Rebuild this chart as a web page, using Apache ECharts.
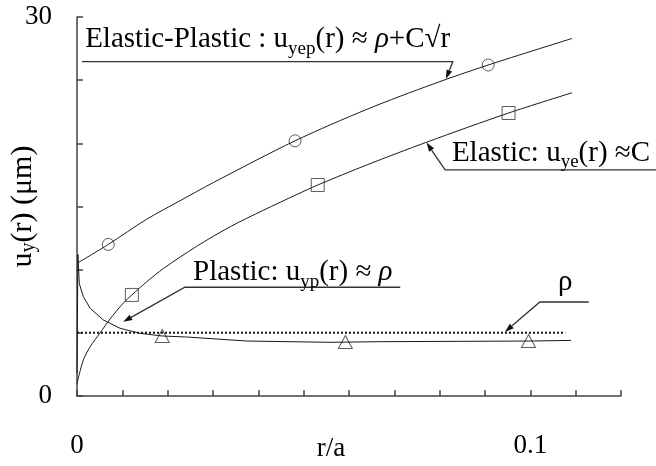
<!DOCTYPE html>
<html><head><meta charset="utf-8">
<script src="https://cdn.jsdelivr.net/npm/echarts@6/dist/echarts.min.js"></script>
<style>html,body{margin:0;padding:0;background:#fff}#c{width:656px;height:466px}</style>
</head><body><div id="c"></div>
<script>
const FONT_FAMILY = '"Liberation Serif", "Times New Roman", serif';

// tick labels shown on the axes
const xTickValues = [0, 0.1];
const xTickLabels = ['0', '0.1'];
const yTickValues = [0, 30];
const yTickLabels = ['0', '30'];

// curves [r/a, u (µm)]
const elasticPlasticCurve = [[0,10.5],[0.0069,12.0],[0.0154,14.0],[0.0227,15.45],[0.0301,16.9],[0.0481,20.2],[0.064,22.7],[0.0786,24.7],[0.0907,26.2],[0.1092,28.3]];
const elasticCurve = [[0,1.0],[0.0014,2.85],[0.0029,3.9],[0.0051,5.0],[0.0073,6.1],[0.0102,7.35],[0.0121,8.0],[0.0154,9.05],[0.0191,10.1],[0.0264,11.85],[0.0338,13.4],[0.0411,14.7],[0.0485,15.95],[0.0531,16.7],[0.064,18.3],[0.0772,20.1],[0.0952,22.4],[0.1092,24.0]];
const plasticCurve = [[0,1.8],[0.0002,11.2],[0.0005,8.9],[0.0014,7.86],[0.0029,6.94],[0.0058,6.02],[0.0095,5.36],[0.0139,4.96],[0.0188,4.75],[0.0242,4.67],[0.0375,4.35],[0.0558,4.25],[0.0669,4.3],[0.0996,4.35],[0.109,4.4]];
const rhoLine = [[0,5],[0.1077,5]];

// marker points
const elasticPlasticMarks = [[0.0069,12.0],[0.0481,20.2],[0.0907,26.2]];
const elasticMarks = [[0.0121,8.0],[0.0531,16.7],[0.0952,22.4]];
const plasticMarks = [[0.0188,4.75],[0.0592,4.27],[0.0996,4.35]];

// annotation texts: [text, style] style 0=normal 1=subscript 2=italic
const annEPText = [['Elastic-Plastic : u',0],['yep',1],['(r) \u2248 ',0],['\u03c1',2],['+C\u221ar',0]];
const annEText = [['Elastic: u',0],['ye',1],['(r) \u2248C',0]];
const annPText = [['Plastic: u',0],['yp',1],['(r) \u2248 ',0],['\u03c1',2]];
const annRhoText = [['\u03c1',0]];

// annotation anchors in data coords
const annEPAnchor = {textAt:[0.0018,26.47], from:[0.0011,26.47], joint:[0.0829,26.47], tip:[0.0814,25.1]};
const annEAnchor = {textAt:[0.0827,17.9], from:[0.1277,17.9], joint:[0.0812,17.9], tip:[0.0771,20.06]};
const annPAnchor = {textAt:[0.0256,8.61], from:[0.0713,8.61], joint:[0.0238,8.61], tip:[0.0102,5.88]};
const annRhoAnchor = {textAt:[0.1077,7.44], from:[0.1129,7.44], joint:[0.1021,7.44], tip:[0.0944,5.07]};

const chart = echarts.init(document.getElementById('c'));
const lineCol = '#1a1a1a';
function near(a,b){return Math.abs(a-b)<1e-9;}

chart.setOption({
  animation:false,
  backgroundColor:'#fff',
  grid:{left:77,right:35,top:17,bottom:70,containLabel:false,outerBoundsMode:'none'},
  xAxis:{type:'value',min:0,max:0.12,interval:0.01,
    axisLine:{lineStyle:{color:'#444',width:1.5}},
    axisTick:{inside:true,length:6,lineStyle:{color:'#444',width:1.5}},
    splitLine:{show:false},
    axisLabel:{margin:36,fontSize:27,fontFamily:FONT_FAMILY,color:'#000',
      formatter:v=>{for(let i=0;i<xTickValues.length;i++){if(near(v,xTickValues[i]))return xTickLabels[i];}return '';}},
    name:'r/a',nameLocation:'middle',nameGap:39,nameMoveOverlap:false,
    nameTextStyle:{fontSize:27,fontFamily:FONT_FAMILY,color:'#000',padding:[0,36,0,0]}
  },
  yAxis:{type:'value',min:0,max:30,interval:5,
    axisLine:{show:true,lineStyle:{color:'#444',width:1.5}},
    axisTick:{show:true,inside:true,length:6,lineStyle:{color:'#444',width:1.5}},
    splitLine:{show:false},
    axisLabel:{margin:25,fontSize:27,fontFamily:FONT_FAMILY,color:'#000',
      formatter:v=>{for(let i=0;i<yTickValues.length;i++){if(near(v,yTickValues[i]))return yTickLabels[i];}return '';}},
    name:'{m|u}{s|y}{m|(r) (\u03bcm)}',nameLocation:'middle',nameGap:38,nameMoveOverlap:false,
    nameTextStyle:{color:'#000',rich:{m:{fontSize:30,fontFamily:FONT_FAMILY,color:'#000'},s:{fontSize:20,fontFamily:FONT_FAMILY,color:'#000',padding:[11,0,0,0]}}}
  },
  series:[
    {type:'line',data:elasticPlasticCurve,showSymbol:false,smooth:0.3,lineStyle:{color:lineCol,width:1}},
    {type:'line',data:elasticCurve,showSymbol:false,smooth:0.3,lineStyle:{color:lineCol,width:1}},
    {type:'line',data:plasticCurve,showSymbol:false,lineStyle:{color:lineCol,width:1}},
    {type:'line',data:rhoLine,showSymbol:false,lineStyle:{color:'#111',width:2,type:[2,2]}},
    {type:'scatter',data:elasticPlasticMarks,symbol:'circle',symbolSize:12,itemStyle:{color:'#fff',borderColor:'#333',borderWidth:1}},
    {type:'scatter',data:elasticMarks,symbol:'rect',symbolSize:13,itemStyle:{color:'#fff',borderColor:'#333',borderWidth:1}},
    {type:'scatter',data:plasticMarks,symbol:'triangle',symbolSize:[14,13],itemStyle:{color:'#fff',borderColor:'#333',borderWidth:1}}
  ]
});

const ctx = document.createElement('canvas').getContext('2d');
const MAIN = 29, SUB = 19, SUBDY = 6;
function measure(t,size,italic){ctx.font=(italic?'italic ':'')+size+'px '+FONT_FAMILY;return ctx.measureText(t).width;}
function toPx(p){return chart.convertToPixel({gridIndex:0},p);}

const graphics = [];
function addText(pieces, x, baseline, center){
  let total = 0;
  const ws = pieces.map(([t,s])=>{const size=s===1?SUB:MAIN;const w=measure(t,size,s===2);total+=w;return w;});
  let cx = center ? x - total/2 : x;
  pieces.forEach(([t,s],i)=>{
    const size = s===1?SUB:MAIN;
    const by = baseline + (s===1?SUBDY:0);
    graphics.push({type:'text',silent:true,x:cx,y:by-0.34*size,style:{text:t,fontSize:size,fontFamily:FONT_FAMILY,fontStyle:s===2?'italic':'normal',fill:'#000',align:'left',textAlign:'left',verticalAlign:'middle',textVerticalAlign:'middle'}});
    cx += ws[i];
  });
}
function addAnn(pieces, a, gap, center){
  const f=toPx(a.from), j=toPx(a.joint), t=toPx(a.tip), ta=toPx(a.textAt);
  const dx=t[0]-j[0], dy=t[1]-j[1], L=Math.hypot(dx,dy); const ux=dx/L, uy=dy/L;
  const AL=9, AW=6;
  const bx=t[0]-ux*AL, by=t[1]-uy*AL;
  graphics.push({type:'polyline',silent:true,shape:{points:[f,j,[bx,by]]},style:{stroke:'#333',lineWidth:1.3,fill:null}});
  graphics.push({type:'polygon',silent:true,shape:{points:[t,[bx-uy*AW/2,by+ux*AW/2],[bx+uy*AW/2,by-ux*AW/2]]},style:{fill:'#111',stroke:null}});
  addText(pieces, ta[0], j[1]-gap, center);
}
addAnn(annEPText, annEPAnchor, 12, false);
addAnn(annEText, annEAnchor, 7, false);
addAnn(annPText, annPAnchor, 5, false);
addAnn(annRhoText, annRhoAnchor, 10, true);
chart.setOption({graphic:graphics});
</script></body></html>
